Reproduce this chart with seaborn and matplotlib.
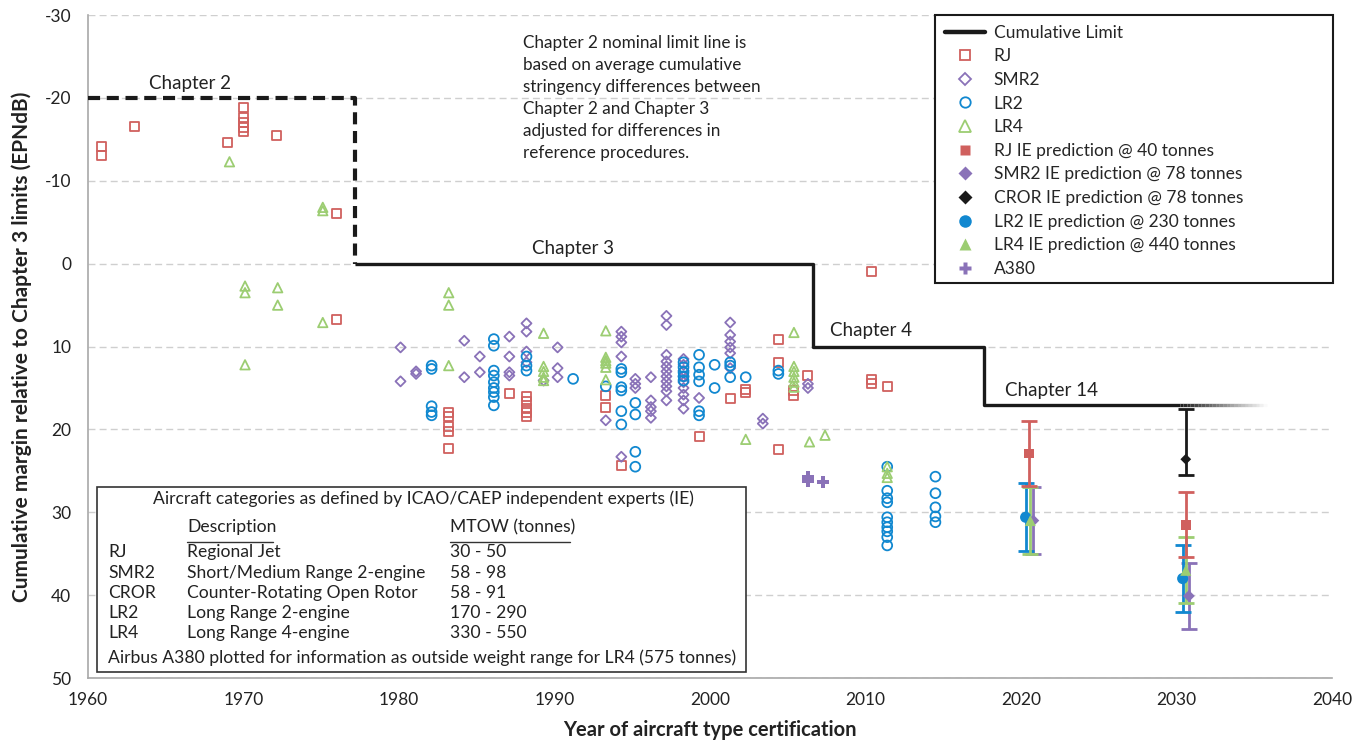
import matplotlib
matplotlib.use("Agg")
import pandas as pd
import matplotlib.pyplot as plt
from matplotlib.lines import Line2D
from matplotlib.patches import Rectangle
import seaborn as sns

# observed aircraft: certification year -> cumulative margins (EPNdB, negative = above limit)
rj = {
    1960.9: [-14.1, -13.0], 1963.0: [-16.5], 1969.0: [-14.6],
    1970.0: [-18.8, -17.7, -17.0, -16.4, -15.9], 1972.1: [-15.5], 1976.0: [-6.1, 6.7],
    1983.2: [17.9, 18.5, 19.7, 20.3, 22.3], 1987.1: [15.7],
    1988.2: [16.0, 16.6, 17.5, 18.0, 18.4], 1993.3: [15.9, 17.3], 1994.3: [24.3],
    1999.3: [20.8], 2001.3: [16.3], 2002.3: [15.2, 15.5], 2004.4: [9.2, 11.9, 22.4],
    2005.4: [15.3, 15.9], 2006.3: [13.5], 2010.4: [1.0, 14.0, 14.5], 2011.4: [14.8],
}
smr2 = {
    1980.1: [10.1, 14.2], 1981.1: [13.0, 13.3], 1984.2: [9.3, 13.7], 1985.2: [11.2, 13.1],
    1987.1: [8.8, 11.2, 13.1, 13.5], 1988.2: [7.2, 8.2, 10.6, 11.9], 1989.3: [14.1],
    1990.2: [10.1, 12.6, 13.7], 1993.3: [18.9], 1994.3: [8.2, 8.8, 9.5, 11.2, 23.3],
    1995.2: [13.9, 14.5, 15.0], 1996.2: [13.7, 16.5, 17.3, 17.8, 18.6],
    1997.2: [6.3, 7.4, 11.0, 11.8, 12.4, 13.0, 13.6, 14.2, 14.8, 15.4, 16.5],
    1998.3: [11.5, 12.2, 12.9, 13.6, 14.3, 15.0, 15.8, 16.5, 17.5], 1999.3: [16.2],
    2001.3: [7.1, 8.6, 9.4, 10.1, 10.8, 12.6], 2003.4: [18.7, 19.3], 2006.3: [14.5, 15.0],
}
lr2 = {
    1982.1: [12.3, 12.7, 17.2, 17.9, 18.3],
    1986.1: [9.1, 9.9, 12.9, 13.5, 14.3, 15.0, 15.5, 16.1, 17.1],
    1988.2: [11.2, 12.3, 12.9], 1991.2: [13.9], 1993.3: [14.8],
    1994.3: [12.7, 13.1, 14.9, 15.3, 17.8, 19.4], 1995.2: [16.8, 18.2, 22.7, 24.5],
    1998.3: [11.9, 12.5, 13.1, 13.6, 14.1], 1999.3: [11.0, 12.5, 13.4, 14.2, 17.8, 18.3],
    2000.3: [12.2, 15.0], 2001.3: [11.9, 12.3, 13.7], 2002.3: [13.7], 2004.4: [12.9, 13.3],
    2011.4: [24.5, 27.4, 28.3, 28.8, 30.6, 31.2, 31.8, 32.3, 33.0, 34.0],
    2014.5: [25.7, 27.7, 29.4, 30.5, 31.2],
}
lr4 = {
    1969.1: [-12.3], 1970.1: [2.7, 3.5, 12.2], 1972.2: [2.9, 5.0], 1975.1: [-6.8, -6.4, 7.1],
    1983.2: [3.5, 5.0, 12.3], 1989.3: [8.4, 12.4, 13.0, 13.7, 14.1],
    1993.3: [8.1, 11.3, 11.7, 12.0, 12.5, 14.0], 2002.3: [21.2],
    2005.4: [8.3, 12.4, 13.0, 13.7, 14.3, 14.9], 2006.4: [21.5], 2007.4: [20.7],
    2011.4: [24.5, 25.3, 25.8],
}
a380_year = [2006.3, 2006.3, 2007.3]
a380_margin = [25.8, 26.2, 26.4]

# IE predictions (value, +/- range)
rj_pred_year, rj_pred, rj_pred_err = [2020.5, 2030.6], [22.9, 31.5], [3.9, 3.9]
smr2_pred_year, smr2_pred, smr2_pred_err = [2020.8, 2030.8], [31.0, 40.1], [4.0, 4.0]
lr2_pred_year, lr2_pred, lr2_pred_err = [2020.3, 2030.4], [30.6, 38.0], [4.1, 4.0]
lr4_pred_year, lr4_pred, lr4_pred_err = [2020.6, 2030.6], [31.0, 37.0], [4.0, 4.0]
cror_pred_year, cror_pred = [2030.6], [23.6]
cror_err_up, cror_err_down = [6.1], [1.9]

# stepped limit lines
ch2_year, ch2_limit = [1960, 1977.2, 1977.2], [-20, -20, 0]
limit_year = [1977.2, 2006.6, 2006.6, 2017.6, 2017.6, 2030.2]
limit_value = [0, 0, 10, 10, 17, 17]
fade_from, fade_to = 2030.2, 2035.8

categories = [
    ("RJ", "Regional Jet", "30 - 50"),
    ("SMR2", "Short/Medium Range 2-engine", "58 - 98"),
    ("CROR", "Counter-Rotating Open Rotor", "58 - 91"),
    ("LR2", "Long Range 2-engine", "170 - 290"),
    ("LR4", "Long Range 4-engine", "330 - 550"),
]

RED, PURPLE, BLUE, GREEN = "#d0605e", "#8a72b8", "#1188d0", "#9ccd72"
INK = "#1a1a1a"


def to_frame(groups):
    rows = [(yr, v) for yr, vals in groups.items() for v in vals]
    return pd.DataFrame(rows, columns=["year", "margin"])


sns.set_theme(style="white")
plt.rcParams["font.family"] = ["Lato", "DejaVu Sans"]
plt.rcParams["axes.unicode_minus"] = False

fig = plt.figure(figsize=(13.64, 7.44), dpi=100)
ax = fig.add_axes([0.0645, 0.0887, 0.912, 0.891])

# limit lines
ax.plot(ch2_year, ch2_limit, color=INK, lw=3, dashes=(2.9, 1.6), zorder=3)
ax.plot(limit_year, limit_value, color=INK, lw=2.4, zorder=3, solid_capstyle="butt")
nseg = 24
for i in range(nseg):
    x0 = fade_from + (fade_to - fade_from) * i / nseg
    x1 = fade_from + (fade_to - fade_from) * (i + 1) / nseg
    ax.plot([x0, x1], [17, 17], color=INK, lw=2.4, alpha=1 - (i + 0.5) / nseg,
            solid_capstyle="butt", zorder=3)

# observed aircraft (open markers)
for groups, mk, col, sz in [(rj, "s", RED, 42), (smr2, "D", PURPLE, 26),
                            (lr2, "o", BLUE, 50), (lr4, "^", GREEN, 46)]:
    df = to_frame(groups)
    sns.scatterplot(data=df, x="year", y="margin", marker=mk, s=sz, ax=ax, zorder=4)
    coll = ax.collections[-1]
    coll.set_facecolor("none")
    coll.set_edgecolor(col)
    coll.set_linewidth(1.3)

sns.scatterplot(x=a380_year, y=a380_margin, marker="P", s=75, color=PURPLE,
                edgecolor="none", ax=ax, zorder=4)

# predictions with error bars
for yr, val, err, mk, col, ms in [
    (smr2_pred_year, smr2_pred, smr2_pred_err, "D", PURPLE, 6),
    (lr2_pred_year, lr2_pred, lr2_pred_err, "o", BLUE, 8),
    (lr4_pred_year, lr4_pred, lr4_pred_err, "^", GREEN, 8),
    (rj_pred_year, rj_pred, rj_pred_err, "s", RED, 7),
]:
    ax.errorbar(yr, val, yerr=err, fmt="none", ecolor=col, elinewidth=2, capsize=5.5,
                capthick=2, zorder=5)
    sns.scatterplot(x=yr, y=val, marker=mk, s=ms ** 2, color=col, edgecolor="none",
                    ax=ax, zorder=6)
ax.errorbar(cror_pred_year, cror_pred, yerr=[cror_err_up, cror_err_down], fmt="none",
            ecolor=INK, elinewidth=2, capsize=5.5, capthick=2, zorder=5)
sns.scatterplot(x=cror_pred_year, y=cror_pred, marker="D", s=30, color=INK,
                edgecolor="none", ax=ax, zorder=6)

# axes
ax.set_xlim(1960, 2040)
ax.set_ylim(50, -30)
ax.set_xticks(range(1960, 2041, 10))
ax.set_yticks(range(-30, 51, 10))
ax.yaxis.grid(True, color="#cfcfcf", ls=(0, (5, 3)), lw=1)
ax.xaxis.grid(False)
for side in ["top", "right"]:
    ax.spines[side].set_visible(False)
for side in ["left", "bottom"]:
    ax.spines[side].set_color("#a8a8a8")
    ax.spines[side].set_linewidth(1.2)
ax.tick_params(length=0, labelsize=12.5, labelcolor="#222222")
ax.tick_params(axis="x", pad=10)
ax.tick_params(axis="y", pad=12)
ax.set_xlabel("Year of aircraft type certification", fontsize=14.5, fontweight="bold",
              color="#222222", labelpad=9)
ax.set_ylabel("Cumulative margin relative to Chapter 3 limits (EPNdB)", fontsize=15,
              fontweight="bold", color="#222222", labelpad=9)

# chapter labels
txt = dict(fontsize=13.5, color="#222222", va="center")
ax.text(1963.9, -21.8, "Chapter 2", ha="left", **txt)
ax.text(1991.2, -1.8, "Chapter 3", ha="center", **txt)
ax.text(2007.7, 8.1, "Chapter 4", ha="left", **txt)
ax.text(2019.0, 15.3, "Chapter 14", ha="left", **txt)
ax.text(1988.0, -27.6,
        "Chapter 2 nominal limit line is\nbased on average cumulative\n"
        "stringency differences between\nChapter 2 and Chapter 3\n"
        "adjusted for differences in\nreference procedures.",
        ha="left", va="top", fontsize=12.3, color="#222222", linespacing=1.46)

# category box
ax.add_patch(Rectangle((1960.6, 26.9), 41.7, 22.4, facecolor="white",
                       edgecolor="#333333", lw=1.2, zorder=7))
bt = dict(fontsize=12.6, color="#222222", va="center", zorder=8)
ax.text(1981.6, 28.4, "Aircraft categories as defined by ICAO/CAEP independent experts (IE)",
        ha="center", **bt)
ax.text(1966.4, 31.8, "Description", ha="left", **bt)
ax.text(1983.3, 31.8, "MTOW (tonnes)", ha="left", **bt)
ax.plot([1966.4, 1971.9], [33.6, 33.6], color="#333333", lw=1, zorder=8)
ax.plot([1983.3, 1991.0], [33.6, 33.6], color="#333333", lw=1, zorder=8)
row_y = [34.8, 37.3, 39.8, 42.2, 44.6]
for (code, desc, mtow), yy in zip(categories, row_y):
    ax.text(1961.3, yy, code, ha="left", **bt)
    ax.text(1966.4, yy, desc, ha="left", **bt)
    ax.text(1983.3, yy, mtow, ha="left", **bt)
ax.text(1961.3, 47.6,
        "Airbus A380 plotted for information as outside weight range for LR4 (575 tonnes)",
        ha="left", **bt)

# legend (frame drawn separately to keep the wide box)
def open_mk(m, c, ms):
    return Line2D([], [], ls="none", marker=m, ms=ms, mfc="none", mec=c, mew=1.3)


def full_mk(m, c, ms):
    return Line2D([], [], ls="none", marker=m, ms=ms, mfc=c, mec="none")


handles = [
    Line2D([], [], color=INK, lw=3.2),
    open_mk("s", RED, 6.5), open_mk("D", PURPLE, 6), open_mk("o", BLUE, 7.5),
    open_mk("^", GREEN, 8),
    full_mk("s", RED, 7), full_mk("D", PURPLE, 7), full_mk("D", INK, 7),
    full_mk("o", BLUE, 9), full_mk("^", GREEN, 9), full_mk("P", PURPLE, 9),
]
labels = ["Cumulative Limit", "RJ", "SMR2", "LR2", "LR4",
          "RJ IE prediction @ 40 tonnes", "SMR2 IE prediction @ 78 tonnes",
          "CROR IE prediction @ 78 tonnes", "LR2 IE prediction @ 230 tonnes",
          "LR4 IE prediction @ 440 tonnes", "A380"]
ax.add_patch(Rectangle((0.681, 0.596), 0.3198, 0.404, transform=ax.transAxes,
                       facecolor="white", edgecolor=INK, lw=1.5, clip_on=False, zorder=8))
leg = ax.legend(handles, labels, loc="upper left", bbox_to_anchor=(0.681, 1.0),
                fontsize=12.5, frameon=False, borderaxespad=0,
                handlelength=2.3, handletextpad=0.52, labelspacing=0.44,
                borderpad=0.55)
leg.set_zorder(9)

fig.savefig("out.png", dpi=100)
